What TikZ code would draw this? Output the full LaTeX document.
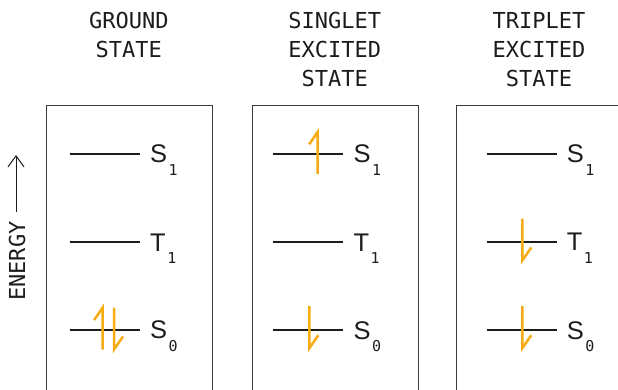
\documentclass[tikz,border=0pt]{standalone}
\usepackage{fontspec}
\setmainfont{Liberation Sans}
\newfontfamily\codefont{DejaVu Sans Mono}
\usetikzlibrary{arrows.meta}

\definecolor{ink}{HTML}{1C1C1C}
\definecolor{frame}{HTML}{3A3A3A}
\definecolor{spin}{HTML}{F7AC14}

% subscript digits of the state labels
\newcommand\subdigitfont{\codefont\fontsize{15}{15}\selectfont}
\newcommand\statename[2]{#1\hspace{1.5pt}\raisebox{-12.5pt}{\subdigitfont #2}}
% one energy level: name, left x, right x, y, label
\newcommand\levelline[5]{%
  \draw[level] (#2,#4) -- (#3,#4);
  \node[statelabel] (#1) at (#3+10,#4+9) {#5};}

\begin{document}
\begin{tikzpicture}[x=1pt,y=-1pt,
  panel/.style={draw=frame, line width=1.1pt, minimum width=166pt,
    minimum height=300pt, anchor=north west, inner sep=0pt},
  heading/.style={font=\codefont\fontsize{22}{29}\selectfont, text=ink,
    align=center, anchor=north, inner sep=0pt},
  level/.style={draw=ink, line width=2pt},
  statelabel/.style={font=\fontsize{25.5}{25.5}\selectfont, text=ink,
    anchor=base west, inner sep=0pt},
  electron/.style={draw=spin, line width=2.5pt, line join=miter, line cap=butt},
  pics/spinup/.style={code={\draw[electron] (0,21) -- (0,-21) -- (-8.5,-8.5);}},
  pics/spindown/.style={code={\draw[electron] (0,-21) -- (0,21) -- (9,8);}}]

\useasboundingbox (0,0) rectangle (618,389);
\clip (0,0) rectangle (618,389);

% column headings
\node[heading] (head-ground) at (128.85,12) {GROUND\\STATE};
\node[heading] (head-singlet) at (334.85,12) {SINGLET\\EXCITED\\STATE};
\node[heading] (head-triplet) at (539,12) {TRIPLET\\EXCITED\\STATE};

% panels
\node[panel] (ground) at (45.7,105) {};
\node[panel] (singlet) at (251.7,105) {};
\node[panel] (triplet) at (456,105) {};

% energy axis
\node[font=\codefont\fontsize{22}{22}\selectfont, text=ink, rotate=90,
  inner sep=0pt] (energy) at (17,261) {ENERGY};
\coordinate (energy-tail) at (16,211.5);
\coordinate (energy-head) at (16,155);
\draw[ink, line width=1pt, -{Straight Barb[length=11pt,width=16pt]}]
  (energy-tail) -- (energy-head);

% ground state
\levelline{g-s1}{69.5}{140}{153.5}{\statename{S}{1}}
\levelline{g-t1}{69.5}{140}{242}{\statename{T}{1}}
\levelline{g-s0}{69.5}{140}{329.5}{\statename{S}{0}}
\pic at (102.7,328.5) {spinup};
\pic at (114,328.5) {spindown};

% singlet excited state
\levelline{s-s1}{272.7}{343.3}{153.5}{\statename{S}{1}}
\levelline{s-t1}{272.7}{343.3}{242}{\statename{T}{1}}
\levelline{s-s0}{272.7}{343.3}{330}{\statename{S}{0}}
\pic at (317.7,152.8) {spinup};
\pic at (309.3,327.2) {spindown};

% triplet excited state
\levelline{t-s1}{486.5}{556.7}{153.5}{\statename{S}{1}}
\levelline{t-t1}{486.5}{556.7}{241.7}{\statename{T}{1}}
\levelline{t-s0}{486.5}{556.7}{330}{\statename{S}{0}}
\pic at (522.3,239.5) {spindown};
\pic at (522.3,327.2) {spindown};

\end{tikzpicture}
\end{document}
